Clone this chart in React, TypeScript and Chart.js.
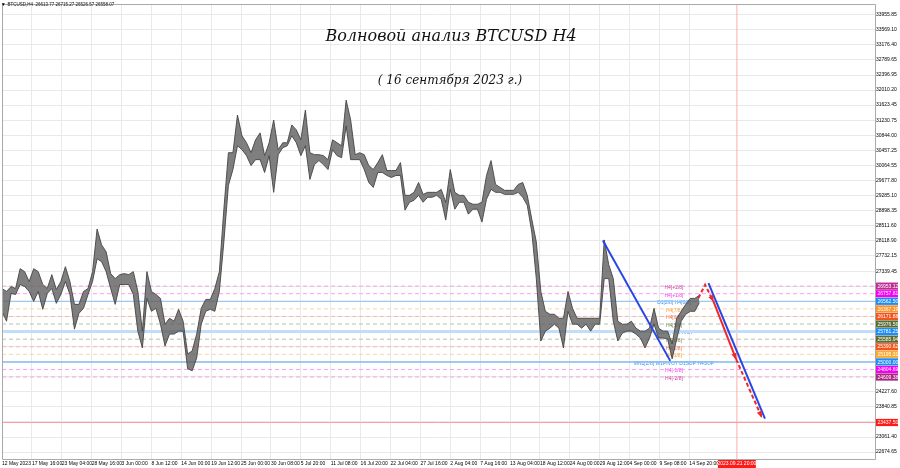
import React, { useEffect, useRef } from "react";
import { Chart, registerables } from "chart.js";

Chart.register(...registerables);

// ---------- data ----------
const BAR_STEP = 5; // H4 bars per sample
const X_MAX = 964; // bars visible
const Y_MIN = 22496;
const Y_MAX = 34228;

const HIGH = [
  26892, 26816, 26943, 26892, 27403, 27327, 27071, 27403, 27327, 26995,
  26892, 27250, 26867, 27071, 27455, 27071, 26483, 26483, 26816, 26892,
  27327, 28426, 28017, 27838, 27276, 27148, 27250, 27276, 27250, 27327,
  26816, 25793, 27327, 26816, 26739, 26637, 25972, 26125, 26049, 26356,
  26049, 25205, 25282, 25717, 26381, 26611, 26611, 26892, 27327, 28937,
  30394, 30394, 31365, 30829, 30650, 30394, 30726, 30905, 30317, 30650,
  31237, 30471, 30650, 30650, 31110, 30982, 30726, 31493, 30394, 30343,
  30343, 30317, 30215, 30726, 30650, 30573, 31749, 31237, 30343, 30394,
  30343, 30062, 29959, 30138, 30343, 29934, 29934, 29934, 30138, 29295,
  29295, 29372, 29627, 29320, 29372, 29372, 29372, 29448, 29116, 29959,
  29372, 29295, 29295, 29116, 29065, 29065, 29116, 29806, 30190, 29576,
  29499, 29423, 29423, 29423, 29576, 29627, 29295, 28681, 28094, 26816,
  26304, 26228, 26228, 26125, 26125, 26816, 26381, 26125, 26125, 26125,
  26125, 26125, 26125, 28145, 27506, 27148, 26049, 25972, 25972, 26049,
  25870, 25793, 25793, 25870, 26381, 25870, 25793, 25793, 25461, 26125,
  26304, 26483, 26637, 26637, 26715,
];

const LOW = [
  26304, 26049, 26764, 26739, 26995, 26943, 26816, 26560, 26816, 26356,
  26764, 26892, 26509, 26739, 27071, 26739, 25844, 26253, 26381, 26739,
  27071, 27659, 27582, 27327, 26892, 26483, 26995, 26995, 26995, 26739,
  25793, 25359, 26637, 26304, 26381, 25972, 25410, 25717, 25717, 25793,
  25793, 24822, 24771, 25103, 25972, 26304, 26356, 26304, 26816, 28094,
  29551, 29959, 30573, 30471, 30317, 30062, 30215, 30215, 29883, 30317,
  29372, 30343, 30522, 30573, 30829, 30650, 30317, 30573, 29704, 30087,
  30190, 30087, 29959, 30471, 30317, 30266, 31084, 30215, 30215, 30215,
  29959, 29627, 29499, 29883, 29883, 29806, 29755, 29806, 29806, 28912,
  29116, 29167, 29295, 29116, 29244, 29244, 29295, 29193, 28656, 29448,
  28937, 29116, 29116, 28809, 28937, 28937, 28605, 29193, 29448, 29372,
  29372, 29320, 29320, 29320, 29372, 29244, 29039, 28349, 27148, 25538,
  25793, 25870, 25972, 25870, 25359, 26304, 25972, 25972, 25870, 25972,
  25793, 25972, 25972, 27148, 27148, 26049, 25538, 25742, 25793, 25793,
  25717, 25614, 25359, 25614, 25972, 25614, 25614, 25589, 25078, 25589,
  26049, 26228, 26304, 26304, 26527,
];

const TIME_LABELS = [
  "12 May 2023", "17 May 16:00", "23 May 04:00", "28 May 16:00", "3 Jun 00:00",
  "8 Jun 12:00", "14 Jun 00:00", "19 Jun 12:00", "25 Jun 00:00", "30 Jun 08:00",
  "5 Jul 20:00", "11 Jul 08:00", "16 Jul 20:00", "22 Jul 04:00", "27 Jul 16:00",
  "2 Aug 04:00", "7 Aug 16:00", "13 Aug 04:00", "18 Aug 12:00", "24 Aug 00:00",
  "29 Aug 12:00", "4 Sep 00:00", "9 Sep 08:00", "14 Sep 20:00",
];
const TIME_LABEL_STEP = 33; // bars between time labels

const PRICE_TICKS = [
  33955.85, 33569.1, 33176.4, 32789.65, 32396.95, 32010.2, 31623.45, 31230.75,
  30844.0, 30457.25, 30064.55, 29677.8, 29285.1, 28898.35, 28511.6, 28118.9,
  27732.15, 27339.45, 26952.7, 26560.0, 26173.25, 25786.5, 25393.8, 25007.05,
  24614.35, 24227.6, 23840.85, 23454.15, 23061.4, 22674.65,
];

const LEVEL_VALUES = [
  26953.12, 26757.81, 26562.5, 26367.19, 26171.88, 25976.56, 25781.25,
  25585.94, 25390.62, 25195.31, 25000.0, 24804.69, 24609.38,
];
const LEVEL_NAMES = [
  "H4[+2/8]", "H4[+1/8]", "D1[2/8] H4[8/8]", "H4[7/8]", "H4[6/8]", "H4[5/8]",
  "D1[1/8] H4PIVOT", "H4[3/8]", "H4[2/8]", "H4[1/8]",
  "MN1[2/8] W1PIVOT D1SUP H4SUP", "H4[-1/8]", "H4[-2/8]",
];
const LEVEL_LABEL_TIME = 742;

const TARGET_LEVEL = 23437.5;
const MARK_TIME = 811.5;
const MARK_TIME_LABEL = "2023.09.21 20:00";

const BLUE1_T = [663.5, 737.9];
const BLUE1_P = [28132, 25026];
const BLUE2_T = [780.1, 842.5];
const BLUE2_P = [27028, 23536];
const RED_T = [769, 776.4, 785.6, 810.6, 838.9];
const RED_P = [26644, 26987, 26560, 25070, 23577];

const HEADER = "BTCUSD,H4  26613.77 26715.27 26526.57 26558.07";
const TITLE = "Волновой анализ BTCUSD H4";
const SUBTITLE = "( 16 сентября 2023 г.)";

// ---------- styles ----------
const LEVEL_LINE_COLORS = [
  "#eea8dc", "#fb9cf6", "#9cc8f4", "#fcd3a8", "#f9b7a4", "#b9bfae", "#c2ddf8",
  "#b9bfae", "#f9b7a4", "#fcd3a8", "#86bdf3", "#fb9cf6", "#eea8dc",
];
const LEVEL_DASHED = [true, true, false, true, true, true, false, true, true, true, false, true, true];
const LEVEL_WIDTHS = [1, 1, 1.2, 1, 1, 1, 3, 1, 1, 1, 1.5, 1, 1];
const LEVEL_TEXT_COLORS = [
  "#c8389e", "#f23cf0", "#3b93ef", "#f59a3a", "#f2683f", "#6f8048", "#3b93ef",
  "#6f8048", "#f2683f", "#f59a3a", "#3b93ef", "#f23cf0", "#c8389e",
];
const LEVEL_BOX_COLORS = [
  "#c02e95", "#f500f5", "#1e8cf7", "#fb9430", "#f2541e", "#5a6b35", "#1e8cf7",
  "#5a6b35", "#f2541e", "#fbaa30", "#1e8cf7", "#f500f5", "#a82882",
];

const SMALL_FONT = "Liberation Sans";

export default function App() {
  const ref = useRef<HTMLCanvasElement>(null);

  useEffect(() => {
    const canvas = ref.current;
    if (!canvas) return;

    const pts = (t: number[], p: number[]) => t.map((x, i) => ({ x, y: p[i] }));

    const levelSets = LEVEL_VALUES.map((v, k) => ({
      label: LEVEL_NAMES[k],
      data: [{ x: 0, y: v }, { x: X_MAX, y: v }],
      borderColor: LEVEL_LINE_COLORS[k],
      borderWidth: LEVEL_WIDTHS[k],
      borderDash: LEVEL_DASHED[k] ? [4, 3] : [],
      pointRadius: 0,
      fill: false,
      order: 10,
    }));

    const datasets: any[] = [
      {
        label: "high",
        data: HIGH.map((v, i) => ({ x: i * BAR_STEP, y: v })),
        borderColor: "#444444",
        borderWidth: 0.9,
        pointRadius: 0,
        fill: false,
        order: 5,
      },
      {
        label: "low",
        data: LOW.map((v, i) => ({ x: i * BAR_STEP, y: v })),
        borderColor: "#444444",
        borderWidth: 0.9,
        backgroundColor: "rgba(95,95,95,0.8)",
        pointRadius: 0,
        fill: "-1",
        order: 5,
      },
      ...levelSets,
      {
        label: "target",
        data: [{ x: 0, y: TARGET_LEVEL }, { x: X_MAX, y: TARGET_LEVEL }],
        borderColor: "#ff9d9d",
        borderWidth: 1,
        pointRadius: 0,
        fill: false,
        order: 10,
      },
      {
        label: "mark",
        data: [{ x: MARK_TIME, y: Y_MIN }, { x: MARK_TIME, y: Y_MAX }],
        borderColor: "#ffabab",
        borderWidth: 1,
        pointRadius: 0,
        fill: false,
        order: 10,
      },
      {
        label: "blue1",
        data: pts(BLUE1_T, BLUE1_P),
        borderColor: "#2846e6",
        borderWidth: 2,
        pointRadius: 0,
        fill: false,
        order: 0,
      },
      {
        label: "blue2",
        data: pts(BLUE2_T, BLUE2_P),
        borderColor: "#2846e6",
        borderWidth: 2,
        pointRadius: 0,
        fill: false,
        order: 0,
      },
      {
        label: "red",
        data: pts(RED_T, RED_P),
        borderColor: "#f02828",
        borderWidth: 2,
        pointRadius: 0,
        fill: false,
        order: -1,
        segment: {
          borderDash: (ctx: any) => (ctx.p0DataIndex === 2 ? [] : [4, 2.5]),
        },
      },
    ];
    const redIndex = datasets.length - 1;

    const overlay = {
      id: "overlay",
      beforeDatasetsDraw(chart: any) {
        const { ctx, scales } = chart;
        const xs = scales.x;
        const ys = scales.y;
        ctx.save();
        ctx.font = `5px "${SMALL_FONT}"`;
        ctx.textAlign = "center";
        ctx.textBaseline = "middle";
        const lx = xs.getPixelForValue(LEVEL_LABEL_TIME);
        LEVEL_VALUES.forEach((v, k) => {
          ctx.fillStyle = LEVEL_TEXT_COLORS[k];
          ctx.fillText(LEVEL_NAMES[k], lx, ys.getPixelForValue(v) + 1.5);
        });
        ctx.restore();
      },
      afterDatasetsDraw(chart: any) {
        const { ctx } = chart;
        const meta = chart.getDatasetMeta(redIndex);
        const p = meta.data;
        ctx.save();
        ctx.fillStyle = "#f02828";
        [2, 3, 4].forEach((i) => {
          const a = p[i - 1];
          const b = p[i];
          const ang = Math.atan2(b.y - a.y, b.x - a.x);
          const L = 6;
          const W = 2.6;
          ctx.beginPath();
          ctx.moveTo(b.x + Math.cos(ang) * 1, b.y + Math.sin(ang) * 1);
          ctx.lineTo(
            b.x - Math.cos(ang) * L - Math.sin(ang) * W,
            b.y - Math.sin(ang) * L + Math.cos(ang) * W
          );
          ctx.lineTo(
            b.x - Math.cos(ang) * L + Math.sin(ang) * W,
            b.y - Math.sin(ang) * L - Math.cos(ang) * W
          );
          ctx.closePath();
          ctx.fill();
        });
        ctx.restore();
      },
      afterDraw(chart: any) {
        const { ctx, chartArea, scales } = chart;
        const ys = scales.y;
        const xs = scales.x;
        ctx.save();
        // frame
        ctx.strokeStyle = "#a9a9a9";
        ctx.lineWidth = 1;
        ctx.beginPath();
        ctx.moveTo(chartArea.left + 0.5, chartArea.bottom + 0.5);
        ctx.lineTo(chartArea.left + 0.5, chartArea.top + 0.5);
        ctx.lineTo(chartArea.right + 0.5, chartArea.top + 0.5);
        ctx.lineTo(chartArea.right + 0.5, chartArea.bottom + 0.5);
        ctx.lineTo(chartArea.left + 0.5, chartArea.bottom + 0.5);
        ctx.stroke();

        // axis boxes
        ctx.font = `5px "${SMALL_FONT}"`;
        ctx.textBaseline = "middle";
        ctx.textAlign = "left";
        const bx = chartArea.right + 1;
        const drawBox = (v: number, color: string) => {
          const y = ys.getPixelForValue(v);
          ctx.fillStyle = color;
          ctx.fillRect(bx, y - 3.6, 22, 7.2);
          ctx.fillStyle = "#ffffff";
          ctx.fillText(v.toFixed(2), bx + 1.5, y + 0.3);
        };
        LEVEL_VALUES.forEach((v, k) => drawBox(v, LEVEL_BOX_COLORS[k]));
        drawBox(TARGET_LEVEL, "#ff1a1a");

        // time mark box
        const mx = xs.getPixelForValue(MARK_TIME);
        ctx.fillStyle = "#ff1a1a";
        ctx.fillRect(mx - 19, chartArea.bottom + 1, 38, 8);
        ctx.fillStyle = "#ffffff";
        ctx.textAlign = "center";
        ctx.fillText(MARK_TIME_LABEL, mx, chartArea.bottom + 5);

        // header
        ctx.fillStyle = "#000";
        ctx.beginPath();
        ctx.moveTo(1.8, 3.3);
        ctx.lineTo(4.8, 3.3);
        ctx.lineTo(3.3, 6);
        ctx.closePath();
        ctx.fill();
        ctx.font = `4.5px "${SMALL_FONT}"`;
        ctx.textAlign = "left";
        ctx.fillStyle = "#111";
        ctx.fillText(HEADER, 7.5, 5);

        // titles
        ctx.textAlign = "center";
        ctx.fillStyle = "#111";
        ctx.font = `italic 16px "DejaVu Serif"`;
        ctx.fillText(TITLE, 451, 37);
        ctx.font = `italic 12px "DejaVu Serif"`;
        ctx.fillText(SUBTITLE, 450, 81);
        ctx.restore();
      },
    };

    const chart = new Chart(canvas, {
      type: "line",
      data: { datasets },
      options: {
        animation: false,
        responsive: false,
        events: [],
        layout: { padding: 0 },
        elements: { line: { tension: 0 }, point: { radius: 0 } },
        plugins: { legend: { display: false }, tooltip: { enabled: false } },
        scales: {
          x: {
            type: "linear",
            min: 0,
            max: X_MAX,
            afterBuildTicks: (s: any) => {
              s.ticks = TIME_LABELS.map((_, j) => ({ value: j * TIME_LABEL_STEP }));
            },
            afterFit: (s: any) => {
              s.height = 9;
            },
            ticks: {
              autoSkip: false,
              maxRotation: 0,
              minRotation: 0,
              align: "start",
              padding: 2,
              color: "#000",
              font: { size: 5, family: SMALL_FONT },
              callback: (_v: any, i: number) => TIME_LABELS[i],
            },
            grid: { color: "#e9e9e9", drawTicks: false },
            border: { display: false },
          },
          y: {
            type: "linear",
            position: "right",
            min: Y_MIN,
            max: Y_MAX,
            afterBuildTicks: (s: any) => {
              s.ticks = PRICE_TICKS.map((v) => ({ value: v }));
            },
            afterFit: (s: any) => {
              s.width = 25;
            },
            ticks: {
              autoSkip: false,
              padding: 1,
              color: "#000",
              font: { size: 5, family: SMALL_FONT },
              callback: (v: any) => Number(v).toFixed(2),
            },
            grid: { color: "#e9e9e9", drawTicks: false },
            border: { display: false },
          },
        },
      } as any,
      plugins: [overlay],
    });

    return () => chart.destroy();
  }, []);

  return (
    <div
      style={{
        position: "absolute",
        left: 0,
        top: 0,
        width: 900,
        height: 468,
        background: "#ffffff",
      }}
    >
      <canvas ref={ref} width={900} height={468} style={{ display: "block" }} />
    </div>
  );
}
